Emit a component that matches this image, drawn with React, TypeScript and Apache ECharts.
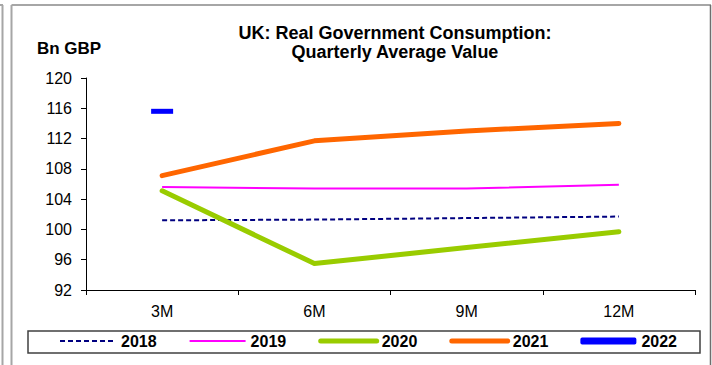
import React, { useEffect, useRef } from "react";
import * as echarts from "echarts";

const categories = ["3M", "6M", "9M", "12M"];
const yTicks = { min: 92, max: 120, interval: 4 };
const s2018 = [101.2, 101.3, 101.5, 101.7];
const s2019 = [105.6, 105.4, 105.4, 105.9];
const s2020 = [105.1, 95.5, 97.6, 99.7];
const s2021 = [107.1, 111.7, 113.0, 114.0];
const s2022 = [115.6, null, null, null];
const seriesNames = ["2018", "2019", "2020", "2021", "2022"];

const FONT = "'Liberation Sans', Arial, sans-serif";

export default function App() {
  const ref = useRef<HTMLDivElement>(null);
  useEffect(() => {
    document.body.style.margin = "0";
    const chart = echarts.init(ref.current!, null, { renderer: "svg" });
    const option: any = {
      animation: false,
      backgroundColor: "#ffffff",
      textStyle: { fontFamily: FONT },
      title: {
        text: "UK: Real Government Consumption:\nQuarterly Average Value",
        left: 390,
        top: 18,
        textAlign: "center",
        textStyle: { fontFamily: FONT, fontSize: 18, fontWeight: "bold", color: "#000", lineHeight: 19 },
      },
      grid: { left: 86, right: 17, top: 78, bottom: 75 },
      xAxis: {
        type: "category",
        data: categories,
        boundaryGap: true,
        axisLine: { lineStyle: { color: "#000", width: 1 } },
        axisTick: { show: true, length: 5, lineStyle: { color: "#000" } },
        axisLabel: { color: "#000", fontSize: 16, fontFamily: FONT, margin: 13 },
        splitLine: { show: false },
      },
      yAxis: {
        type: "value",
        min: yTicks.min,
        max: yTicks.max,
        interval: yTicks.interval,
        name: "Bn GBP",
        nameLocation: "end",
        nameGap: 21,
        nameTextStyle: { fontFamily: FONT, fontSize: 17, fontWeight: "bold", color: "#000", align: "center", padding: [0, 34, 0, 0] },
        axisLine: { show: true, lineStyle: { color: "#000", width: 1 } },
        axisTick: { show: true, length: 5, lineStyle: { color: "#000" } },
        axisLabel: { color: "#000", fontSize: 16, fontFamily: FONT, margin: 14 },
        splitLine: { show: false },
      },
      legend: {
        left: 59,
        top: 333,
        itemWidth: 56,
        itemHeight: 7,
        itemGap: 32,
        padding: 0,
        itemStyle: { opacity: 0 },
        textStyle: { fontFamily: FONT, fontSize: 16, fontWeight: "bold", color: "#000" },
        data: [
          { name: "2018", lineStyle: { width: 2 } },
          { name: "2019", lineStyle: { width: 2 } },
          { name: "2020", lineStyle: { width: 5 } },
          { name: "2021", lineStyle: { width: 5 } },
          { name: "2022", icon: "roundRect", itemStyle: { opacity: 1, color: "#0000ff" } },
        ],
      },
      series: [
        {
          name: seriesNames[0],
          type: "line",
          data: s2018,
          symbol: "none",
          color: "#000080",
          lineStyle: { color: "#000080", width: 2, type: [5, 3] },
        },
        {
          name: seriesNames[1],
          type: "line",
          data: s2019,
          symbol: "none",
          color: "#ff00ff",
          lineStyle: { color: "#ff00ff", width: 2 },
        },
        {
          name: seriesNames[2],
          type: "line",
          data: s2020,
          symbol: "none",
          color: "#99cc00",
          lineStyle: { color: "#99cc00", width: 5, cap: "round", join: "round" },
        },
        {
          name: seriesNames[3],
          type: "line",
          data: s2021,
          symbol: "none",
          color: "#ff6600",
          lineStyle: { color: "#ff6600", width: 5, cap: "round", join: "round" },
        },
        {
          name: seriesNames[4],
          type: "line",
          data: s2022,
          symbol: "rect",
          symbolSize: [22, 5],
          showSymbol: true,
          color: "#0000ff",
          itemStyle: { color: "#0000ff" },
          lineStyle: { color: "#0000ff", width: 6 },
        },
      ],
      graphic: [
        { type: "line", shape: { x1: 2.5, y1: 5, x2: 2.5, y2: 365 }, style: { stroke: "#a6a6a6", lineWidth: 2 } },
        { type: "line", shape: { x1: 0, y1: 5, x2: 3, y2: 5 }, style: { stroke: "#a6a6a6", lineWidth: 2 } },
        { type: "line", shape: { x1: 11.5, y1: 5, x2: 11.5, y2: 365 }, style: { stroke: "#a6a6a6", lineWidth: 2 } },
        { type: "line", shape: { x1: 11.5, y1: 5, x2: 711, y2: 5 }, style: { stroke: "#a6a6a6", lineWidth: 2 } },
        { type: "line", shape: { x1: 710.5, y1: 5, x2: 710.5, y2: 365 }, style: { stroke: "#6e6e6e", lineWidth: 1.5 } },
        { type: "rect", shape: { x: 28, y: 331, width: 672, height: 22 }, style: { fill: "none", stroke: "#404040", lineWidth: 1.5 } },
      ],
    };
    chart.setOption(option);
    return () => chart.dispose();
  }, []);
  return <div ref={ref} style={{ width: 712, height: 365 }} />;
}
